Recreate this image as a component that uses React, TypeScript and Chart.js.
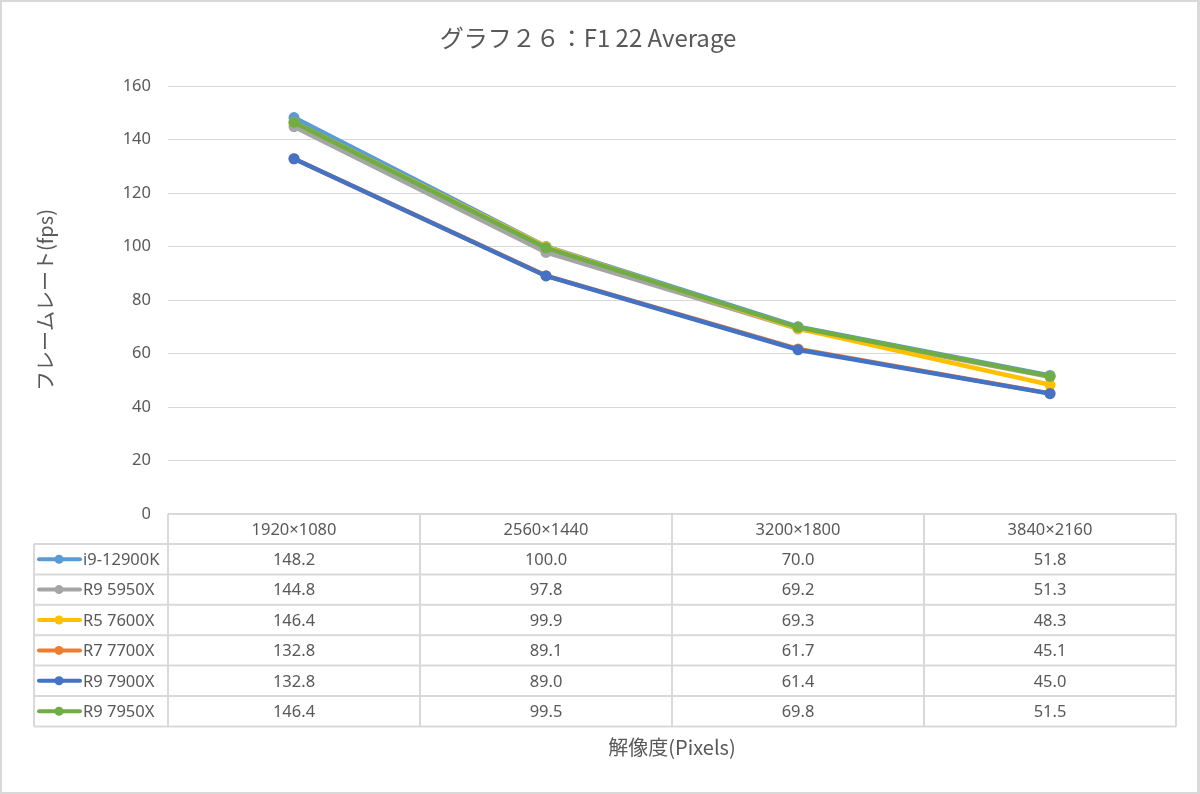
import React, { useEffect, useRef } from "react";
import { Chart, registerables } from "chart.js";

Chart.register(...registerables);

const chartTitle = "グラフ２６：F1 22 Average";
const yAxisTitle = "フレームレート(fps)";
const xAxisTitle = "解像度(Pixels)";

const categories = ["1920×1080", "2560×1440", "3200×1800", "3840×2160"];
const seriesNames = ["i9-12900K", "R9 5950X", "R5 7600X", "R7 7700X", "R9 7900X", "R9 7950X"];

const i9_12900K = [148.2, 100.0, 70.0, 51.8];
const r9_5950X = [144.8, 97.8, 69.2, 51.3];
const r5_7600X = [146.4, 99.9, 69.3, 48.3];
const r7_7700X = [132.8, 89.1, 61.7, 45.1];
const r9_7900X = [132.8, 89.0, 61.4, 45.0];
const r9_7950X = [146.4, 99.5, 69.8, 51.5];

const seriesValues = [i9_12900K, r9_5950X, r5_7600X, r7_7700X, r9_7900X, r9_7950X];
const seriesColors = ["#5B9BD5", "#A5A5A5", "#FFC000", "#ED7D31", "#4472C4", "#70AD47"];

const yMin = 0;
const yMax = 160;
const yStep = 20;

const FONT = "'Noto Sans CJK JP', 'Noto Sans', sans-serif";
const NUM_FONT = "'Noto Sans', 'Noto Sans CJK JP', sans-serif";
const TEXT = "#595959";
const LINE = "#D9D9D9";

const framePlugin = {
  id: "frame",
  beforeDraw(chart: any) {
    const { ctx, width, height } = chart;
    ctx.save();
    ctx.fillStyle = "#ffffff";
    ctx.fillRect(0, 0, width, height);
    ctx.fillStyle = "#D9D9D9";
    ctx.fillRect(0, 0, width, 2);
    ctx.fillRect(0, height - 2, width, 2);
    ctx.fillRect(0, 0, 2, height);
    ctx.fillRect(width - 3, 0, 3, height);
    ctx.restore();
  },
};

const dataTablePlugin = {
  id: "dataTable",
  afterDraw(chart: any) {
    const { ctx, chartArea } = chart;
    const xScale = chart.scales.x;
    const n = categories.length;
    const colW = (chartArea.right - chartArea.left) / n;
    const rowH = 30.4;
    const top = chartArea.bottom;
    const headerBottom = top + 30;
    const tableBottom = headerBottom + rowH * seriesNames.length;
    const legendLeft = chartArea.left - 134;

    ctx.save();
    ctx.strokeStyle = LINE;
    ctx.lineWidth = 2;
    ctx.beginPath();
    ctx.moveTo(chartArea.left, top);
    ctx.lineTo(chartArea.right, top);
    for (let r = 0; r <= seriesNames.length; r++) {
      const y = headerBottom + rowH * r;
      ctx.moveTo(legendLeft, y);
      ctx.lineTo(chartArea.right, y);
    }
    for (let c = 0; c <= n; c++) {
      const x = chartArea.left + colW * c;
      ctx.moveTo(x, top);
      ctx.lineTo(x, tableBottom);
    }
    ctx.moveTo(legendLeft, headerBottom);
    ctx.lineTo(legendLeft, tableBottom);
    ctx.stroke();

    ctx.fillStyle = TEXT;
    ctx.font = `16.5px ${NUM_FONT}`;
    ctx.textBaseline = "middle";
    ctx.textAlign = "center";
    categories.forEach((cat, i) => {
      const cx = xScale.getPixelForValue(i);
      ctx.fillText(cat, cx, (top + headerBottom) / 2 + 1);
    });

    seriesNames.forEach((name, r) => {
      const cy = headerBottom + rowH * r + rowH / 2 + 1;
      const vals = seriesValues[r];
      ctx.fillStyle = TEXT;
      ctx.textAlign = "center";
      vals.forEach((v, i) => {
        const cx = xScale.getPixelForValue(i);
        ctx.fillText(v.toFixed(1), cx, cy);
      });
      const color = seriesColors[r];
      ctx.strokeStyle = color;
      ctx.lineWidth = 4;
      ctx.lineCap = "round";
      ctx.beginPath();
      ctx.moveTo(legendLeft + 5, cy - 1);
      ctx.lineTo(legendLeft + 46, cy - 1);
      ctx.stroke();
      ctx.fillStyle = color;
      ctx.beginPath();
      ctx.arc(legendLeft + 25, cy - 1, 4.5, 0, Math.PI * 2);
      ctx.fill();
      ctx.fillStyle = TEXT;
      ctx.textAlign = "left";
      ctx.fillText(name, legendLeft + 49, cy);
    });
    ctx.restore();
  },
};

export default function App() {
  const canvasRef = useRef<HTMLCanvasElement | null>(null);

  useEffect(() => {
    const canvas = canvasRef.current;
    if (!canvas) return;
    const chart = new Chart(canvas, {
      type: "line",
      data: {
        labels: categories,
        datasets: seriesNames.map((name, i) => ({
          label: name,
          data: seriesValues[i],
          borderColor: seriesColors[i],
          backgroundColor: seriesColors[i],
          pointBackgroundColor: seriesColors[i],
          pointBorderColor: seriesColors[i],
          borderWidth: 4.5,
          pointRadius: 5.5,
          pointBorderWidth: 0,
          tension: 0,
          order: seriesNames.length - 1 - i,
        })),
      },
      options: {
        responsive: false,
        animation: false,
        devicePixelRatio: 1,
        layout: { padding: { left: 0, right: 24, top: 0, bottom: 0 } },
        plugins: {
          legend: { display: false },
          tooltip: { enabled: false },
          title: {
            display: true,
            text: chartTitle,
            color: TEXT,
            font: { family: FONT, size: 24, weight: "normal" },
            padding: { top: 23, bottom: 34.2 },
          },
        },
        scales: {
          x: {
            type: "category",
            offset: true,
            grid: { display: false, drawTicks: false },
            border: { display: false },
            ticks: { display: false },
            title: {
              display: true,
              text: xAxisTitle,
              color: TEXT,
              font: { family: FONT, size: 20 },
              padding: { top: 0, bottom: 35 },
            },
            afterFit(scale: any) {
              scale.height = 280;
            },
          },
          y: {
            min: yMin,
            max: yMax,
            ticks: {
              stepSize: yStep,
              color: TEXT,
              font: { family: NUM_FONT, size: 16.5 },
              padding: 17,
            },
            grid: { color: LINE, lineWidth: 1, drawTicks: false },
            border: { display: false },
            title: {
              display: true,
              text: yAxisTitle,
              color: TEXT,
              font: { family: FONT, size: 20 },
              padding: { top: 33, bottom: 0 },
            },
            afterFit(scale: any) {
              scale.width = 168;
            },
          },
        },
      },
      plugins: [framePlugin, dataTablePlugin],
    } as any);
    return () => chart.destroy();
  }, []);

  return (
    <div style={{ position: "absolute", left: 0, top: 0, width: 1200, height: 794 }}>
      <canvas ref={canvasRef} width={1200} height={794} style={{ width: 1200, height: 794, display: "block" }} />
    </div>
  );
}
